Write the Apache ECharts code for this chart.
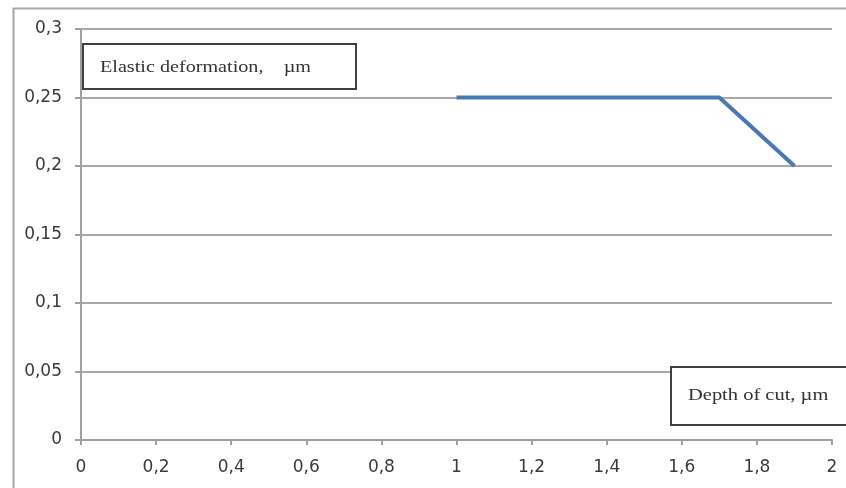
<!DOCTYPE html>
<html>
<head>
<meta charset="utf-8">
<script src="https://cdn.jsdelivr.net/npm/echarts@6/dist/echarts.min.js"></script>
<style>
html,body{margin:0;padding:0;background:#fff;}
#c{width:846px;height:488px;}
</style>
</head>
<body>
<div id="c"></div>
<script>
const depth = [1, 1.7, 1.9];
const deformation = [0.25, 0.25, 0.2];
const xTickValues = [0, 0.2, 0.4, 0.6, 0.8, 1, 1.2, 1.4, 1.6, 1.8, 2];
const xTickLabels = ['0', '0,2', '0,4', '0,6', '0,8', '1', '1,2', '1,4', '1,6', '1,8', '2'];
const yTickValues = [0, 0.05, 0.1, 0.15, 0.2, 0.25, 0.3];
const yTickLabels = ['0', '0,05', '0,1', '0,15', '0,2', '0,25', '0,3'];
const yTitle = 'Elastic deformation,    \u00b5m';
const xTitle = 'Depth of cut, \u00b5m';

function lookup(vals, labels, v) {
  for (let i = 0; i < vals.length; i++) if (Math.abs(vals[i] - v) < 1e-9) return labels[i];
  return '';
}

const chart = echarts.init(document.getElementById('c'));
const axisFont = { fontFamily: 'DejaVu Sans, sans-serif', fontSize: 17, color: '#3a3a3a' };
chart.setOption({
  animation: false,
  backgroundColor: '#fff',
  grid: { left: 81, right: 14, top: 29, bottom: 48 },
  xAxis: {
    type: 'value', min: 0, max: 2, interval: 0.2,
    axisLine: { show: true, lineStyle: { color: '#a0a0a0', width: 2 } },
    axisTick: { show: true, length: 5, lineStyle: { color: '#a0a0a0', width: 2 } },
    splitLine: { show: false },
    axisLabel: Object.assign({ margin: 19, formatter: v => lookup(xTickValues, xTickLabels, v) }, axisFont)
  },
  yAxis: {
    type: 'value', min: 0, max: 0.3, interval: 0.05,
    axisLine: { show: true, lineStyle: { color: '#a0a0a0', width: 2 } },
    axisTick: { show: true, length: 6, lineStyle: { color: '#a0a0a0', width: 2 } },
    splitLine: { show: true, lineStyle: { color: '#a8a8a8', width: 2 } },
    axisLabel: Object.assign({ margin: 19, formatter: v => lookup(yTickValues, yTickLabels, v) }, axisFont)
  },
  series: [{
    type: 'line',
    data: depth.map((d, i) => [d, deformation[i]]),
    showSymbol: false,
    symbol: 'none',
    lineStyle: { color: '#4a78b5', width: 4 },
    z: 5
  }],
  graphic: [
    { type: 'rect', left: 11, top: 6, z: -10, silent: true,
      shape: { width: 900, height: 600 },
      style: { fill: 'none', stroke: '#a8a8a8', lineWidth: 2 } },
    { type: 'rect', x: 83, y: 44, z: 10,
      shape: { width: 273, height: 45 },
      style: { fill: '#fff', stroke: '#404040', lineWidth: 2 } },
    { type: 'text', x: 100, y: 68, z: 11, scaleX: 1.26,
      style: { text: yTitle, fontFamily: 'Liberation Serif, serif', fontSize: 16, fill: '#333', verticalAlign: 'middle' } },
    { type: 'rect', x: 671, y: 367, z: 10,
      shape: { width: 200, height: 58 },
      style: { fill: '#fff', stroke: '#404040', lineWidth: 2 } },
    { type: 'text', x: 688, y: 396, z: 11, scaleX: 1.28,
      style: { text: xTitle, fontFamily: 'Liberation Serif, serif', fontSize: 16, fill: '#333', verticalAlign: 'middle' } }
  ]
});
</script>
</body>
</html>
